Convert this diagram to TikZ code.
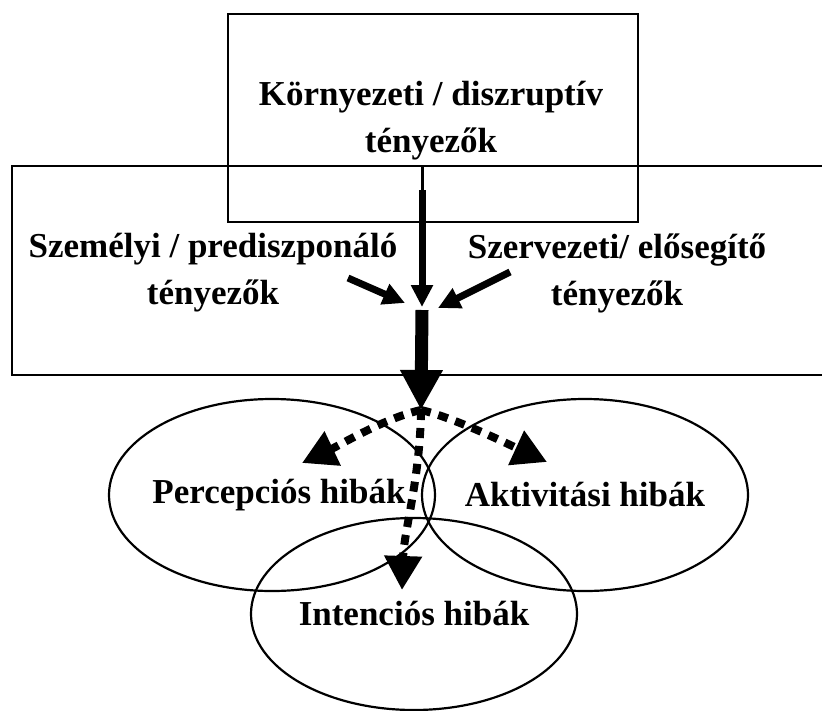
\documentclass[tikz,border=0pt]{standalone}
\usepackage{fontspec}
\setmainfont{Liberation Serif}
\usetikzlibrary{arrows.meta,shapes.geometric}

\tikzset{
  factor/.style={font=\bfseries\fontsize{35}{47}\selectfont, align=center, inner sep=0pt},
  frame/.style={line width=2.5pt},
  error/.style={draw, ellipse, line width=2.2pt, minimum width=326pt, minimum height=192pt,
    inner xsep=-40pt, inner ysep=0pt, font=\bfseries\fontsize{35}{47}\selectfont},
  solid arrow/.style={line width=7pt, -{Triangle[length=22pt,width=21pt]}},
  fat arrow/.style={line width=13pt, -{Triangle[length=40pt,width=40pt]}},
  dotted arrow/.style={line width=8pt, dash pattern=on 10pt off 8pt, -{Triangle[length=34pt,width=36pt]}}
}

\begin{document}
\begin{tikzpicture}[x=1pt,y=-1pt]
  \useasboundingbox (0,0) rectangle (822,710);
  \clip (0,0) rectangle (822,710);

  % frames
  \draw[frame] (12,166) rectangle (840,375);
  \draw[frame] (228,14) rectangle (638,222);

  % factors
  \node[factor] (env) at (431,121) {Környezeti / diszruptív\\tényezők};
  \node[factor] (pers) at (213,273) {Személyi / prediszponáló\\tényezők};
  \node[factor] (org) at (617,273) {Szervezeti/ elősegítő\\tényezők};

  % error types
  \node[error] (perc) at (272,495) {\hspace{14pt}Percepciós hibák};
  \node[error] (akt) at (585,495) {Aktivitási hibák};
  \node[error] (int) at (414,614) {Intenciós hibák};

  % main arrows
  \coordinate (top) at (422,166);
  \coordinate (knee) at (422,190);
  \coordinate (meet) at (422,307);
  \coordinate (exit) at (422,310);
  \coordinate (fork) at (421,410);
  \coordinate (pfrom) at (348,278);
  \coordinate (pto) at (405,303);
  \coordinate (ofrom) at (510,272);
  \coordinate (oto) at (438,308);
  \draw[line width=3pt] (top) -- (knee);
  \draw[solid arrow] (knee) -- (meet);
  \draw[solid arrow] (pfrom) -- (pto);
  \draw[solid arrow] (ofrom) -- (oto);
  \draw[fat arrow] (exit) -- (fork);

  % dotted arrows
  \coordinate (ptip) at (302,463);
  \coordinate (atip) at (547,462);
  \coordinate (itip) at (402,590);
  \draw[dotted arrow] (fork) .. controls (385,418) and (340,445) .. (ptip);
  \draw[dotted arrow] (fork) .. controls (455,418) and (510,445) .. (atip);
  \draw[dotted arrow] (fork) .. controls (420,480) and (404,530) .. (itip);

\end{tikzpicture}
\end{document}
